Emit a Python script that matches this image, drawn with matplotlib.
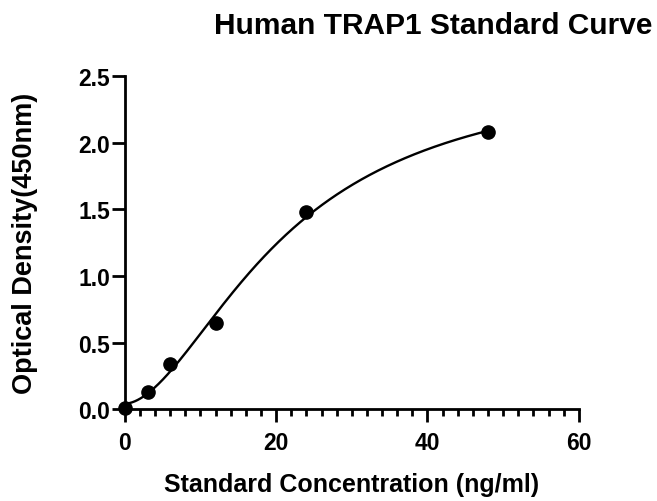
import numpy as np
import matplotlib
matplotlib.use("Agg")
import matplotlib.pyplot as plt
from matplotlib.ticker import MultipleLocator, FormatStrFormatter

conc = [0, 3, 6, 12, 24, 48]
od = [0.01, 0.13, 0.34, 0.65, 1.48, 2.08]
title = "Human TRAP1 Standard Curve"
xlabel = "Standard Concentration (ng/ml)"
ylabel = "Optical Density(450nm)"

x = np.array(conc, float)
y = np.array(od, float)


def model(p, xx):
    a, b, c, d = p
    return d + (a - d) / (1.0 + (np.abs(xx) / c) ** b)


# Levenberg-Marquardt fit of 4PL curve
p = np.array([0.0, 1.5, 20.0, 2.6])
lam = 1e-2
for _ in range(500):
    r = y - model(p, x)
    J = np.zeros((len(x), 4))
    for k in range(4):
        dp = np.zeros(4)
        dp[k] = 1e-6 * max(1.0, abs(p[k]))
        J[:, k] = (model(p + dp, x) - model(p - dp, x)) / (2 * dp[k])
    A = J.T @ J
    g = J.T @ r
    step = np.linalg.solve(A + lam * np.diag(np.diag(A) + 1e-12), g)
    pn = p + step
    if pn[2] > 0 and np.sum((y - model(pn, x)) ** 2) < np.sum(r ** 2):
        p = pn
        lam *= 0.5
    else:
        lam *= 3

xf = np.linspace(0, 48, 400)
yf = model(p, xf)

plt.rcParams['font.family'] = ['Liberation Sans', 'DejaVu Sans']
plt.rcParams['font.weight'] = 'bold'

fig = plt.figure(figsize=(6.57, 5.02), dpi=100)
ax = fig.add_axes([0.190, 0.183, 0.691, 0.663])

ax.plot(xf, yf, color='black', lw=1.7, clip_on=False)
ax.plot(x, y, 'o', color='black', ms=9.5, clip_on=False, zorder=5)

ax.set_xlim(0, 60)
ax.set_ylim(0, 2.5)
ax.xaxis.set_major_locator(MultipleLocator(20))
ax.xaxis.set_minor_locator(MultipleLocator(2))
ax.yaxis.set_major_locator(MultipleLocator(0.5))
ax.yaxis.set_major_formatter(FormatStrFormatter('%.1f'))

for s in ['top', 'right']:
    ax.spines[s].set_visible(False)
for s in ['left', 'bottom']:
    ax.spines[s].set_linewidth(2)

ax.tick_params(axis='both', which='major', length=9.5, width=2, labelsize=16.5)
ax.tick_params(axis='x', which='major', pad=6)
ax.tick_params(axis='y', which='major', pad=1)
ax.tick_params(axis='x', which='minor', length=5, width=2)

for lab in ax.get_xticklabels() + ax.get_yticklabels():
    lab.set_fontweight('bold')

ax.set_xlabel(xlabel, fontsize=18, fontweight='bold', labelpad=13)
ax.set_ylabel(ylabel, fontsize=19.5, fontweight='bold', labelpad=29)

fig.text(0.659, 0.932, title, ha='center', va='baseline', fontsize=21.5, fontweight='bold')

fig.savefig("out.png", dpi=100)
